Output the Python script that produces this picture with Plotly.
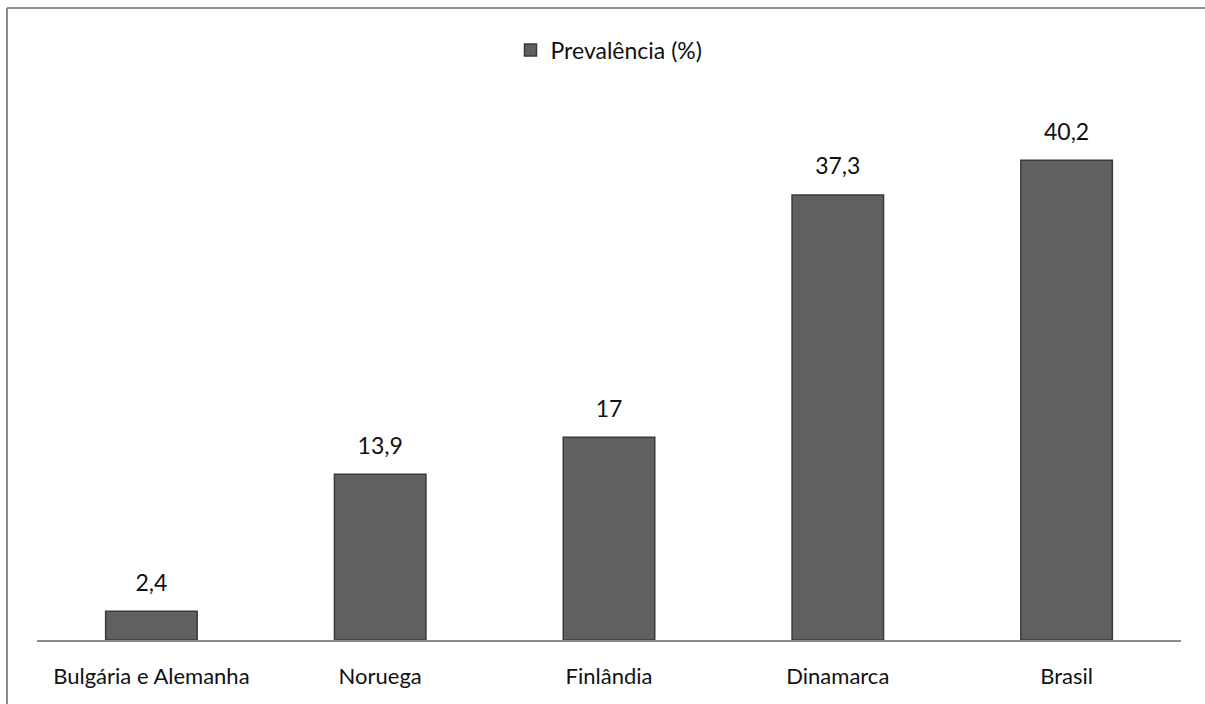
import plotly.graph_objects as go

categories = ["Bulgária e Alemanha", "Noruega", "Finlândia", "Dinamarca", "Brasil"]
prevalence = [2.4, 13.9, 17, 37.3, 40.2]
labels = ["2,4", "13,9", "17", "37,3", "40,2"]
series_name = "Prevalência (%)"

W, H = 1205, 704
L, R, T, B = 37, 24, 103, 64
pw, ph = W - L - R, H - T - B

def px_x(p):
    return (p - L) / pw

def px_y(p):
    return (H - B - p) / ph

fig = go.Figure()
fig.add_trace(go.Bar(
    x=categories, y=prevalence, name=series_name,
    marker=dict(color="#606060", line=dict(color="#3a3a3a", width=1.5)),
    width=0.4,
))
fig.add_trace(go.Scatter(
    x=categories, y=prevalence, mode="markers+text", text=labels,
    textposition="top center", showlegend=False, hoverinfo="skip", cliponaxis=False,
    marker=dict(size=22, opacity=0),
    textfont=dict(size=23, color="#111111", family="Lato"),
))

fig.update_layout(
    width=W, height=H,
    margin=dict(l=L, r=R, t=T, b=B),
    paper_bgcolor="white", plot_bgcolor="white",
    font=dict(family="Lato", size=22, color="#111111"),
    showlegend=True,
    legend=dict(orientation="h", x=0.5, xanchor="center", y=px_y(50), yanchor="middle",
                font=dict(size=23), itemwidth=30),
    xaxis=dict(showline=True, linecolor="#8a8a8a", linewidth=2, ticks="",
               showgrid=False, ticklabelstandoff=16, tickfont=dict(size=22)),
    yaxis=dict(range=[0, 45], visible=False, showgrid=False),
    shapes=[
        dict(type="line", xref="paper", yref="paper", x0=px_x(7), x1=px_x(W + 5),
             y0=px_y(8), y1=px_y(8), line=dict(color="#8c8c8c", width=2)),
        dict(type="line", xref="paper", yref="paper", x0=px_x(7), x1=px_x(7),
             y0=px_y(8), y1=px_y(H + 5), line=dict(color="#8c8c8c", width=2)),
    ],
)

fig.write_html("out.html")
